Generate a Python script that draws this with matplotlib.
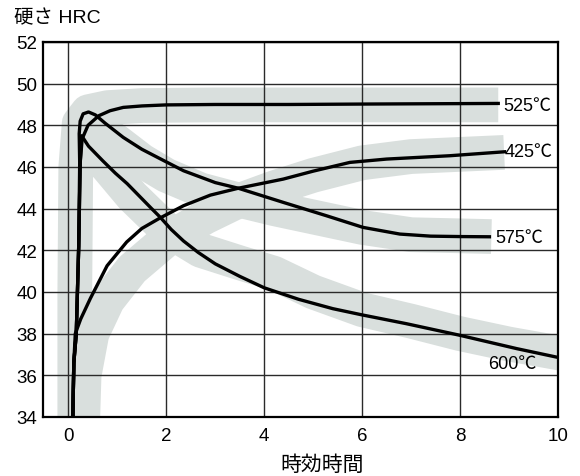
import matplotlib
matplotlib.use("Agg")
import matplotlib.pyplot as plt

# 時効時間 (h) と 硬さ HRC
x_525 = [0.09, 0.11, 0.16, 0.21, 0.24, 0.28, 0.4, 0.62, 0.85, 1.12, 1.5, 2.0, 3.0, 4.5, 6.0, 8.78]
y_525 = [34.0, 36.6, 38.0, 42.2, 46.2, 47.35, 48.0, 48.46, 48.7, 48.86, 48.93, 48.98, 49.0, 49.0, 49.02, 49.05]

x_425 = [0.09, 0.11, 0.14, 0.25, 0.45, 0.79, 1.19, 1.5, 1.87, 2.35, 2.9, 3.47, 4.39, 5.0, 5.75, 6.5, 7.79, 8.91]
y_425 = [34.0, 36.6, 38.0, 38.7, 39.7, 41.26, 42.4, 43.05, 43.55, 44.14, 44.65, 44.98, 45.42, 45.8, 46.22, 46.38, 46.54, 46.73]

x_575 = [0.09, 0.11, 0.16, 0.21, 0.23, 0.22, 0.24, 0.3, 0.41, 0.55, 0.75, 1.12, 1.5, 1.87, 2.35, 3.0, 3.47, 4.39, 5.27, 6.02, 6.77, 7.4, 8.0, 8.6]
y_575 = [34.0, 36.6, 38.0, 42.2, 46.2, 47.6, 48.2, 48.55, 48.64, 48.5, 48.1, 47.42, 46.85, 46.4, 45.82, 45.25, 44.98, 44.3, 43.66, 43.1, 42.78, 42.68, 42.66, 42.65]

x_600 = [0.09, 0.11, 0.16, 0.21, 0.24, 0.27, 0.41, 0.7, 0.96, 1.2, 1.45, 1.7, 1.87, 2.1, 2.35, 2.65, 3.0, 3.5, 4.0, 4.7, 5.4, 6.0, 6.9, 7.98, 9.16, 10.0]
y_600 = [34.0, 36.6, 38.0, 42.2, 46.2, 47.5, 47.0, 46.3, 45.7, 45.2, 44.6, 44.0, 43.6, 43.0, 42.45, 41.9, 41.35, 40.75, 40.2, 39.65, 39.2, 38.9, 38.48, 37.93, 37.28, 36.86]

# ばらつき帯 (灰色) の中心線
band_525_x = [0.13, 0.13, 0.15, 0.22, 0.4, 0.8, 1.5, 3.0, 8.78]
band_525_y = [33.0, 40.0, 46.0, 48.1, 48.65, 48.85, 48.95, 48.98, 48.98]
band_425_x = [0.28, 0.32, 0.48, 0.8, 1.3, 2.0, 2.8, 3.5, 4.2, 5.0, 6.0, 7.0, 8.9]
band_425_y = [33.0, 36.0, 38.0, 39.6, 41.1, 42.5, 43.6, 44.4, 45.0, 45.6, 46.2, 46.5, 46.7]
band_575_x = [0.35, 0.6, 1.0, 1.5, 2.0, 2.7, 3.5, 4.2, 5.0, 6.0, 7.0, 8.64]
band_575_y = [48.3, 47.9, 47.2, 46.3, 45.6, 44.9, 44.4, 44.0, 43.6, 43.1, 42.75, 42.66]
band_600_x = [0.4, 0.8, 1.3, 2.0, 2.7, 3.5, 4.2, 5.0, 6.0, 7.0, 8.0, 9.0, 10.2]
band_600_y = [47.0, 46.0, 44.6, 43.0, 42.0, 41.4, 40.9, 40.0, 39.15, 38.6, 38.0, 37.5, 37.0]

labels = ["525℃", "425℃", "575℃", "600℃"]
label_x = [8.88, 8.92, 8.72, 8.58]
label_y = [48.95, 46.72, 42.62, 36.55]

plt.rcParams['font.family'] = ['Liberation Sans', 'Noto Sans CJK JP']

fig = plt.figure(figsize=(5.8, 4.77), dpi=100)
ax = fig.add_axes([0.0741, 0.1237, 0.8879, 0.7862])

band_color = '#d9dfdd'
for bx, by in [(band_525_x, band_525_y), (band_425_x, band_425_y),
               (band_575_x, band_575_y), (band_600_x, band_600_y)]:
    ax.plot(bx, by, color=band_color, lw=25, solid_capstyle='butt',
            solid_joinstyle='round', zorder=1)

for cx, cy in [(x_525, y_525), (x_425, y_425), (x_575, y_575), (x_600, y_600)]:
    ax.plot(cx, cy, color='black', lw=2.4, solid_joinstyle='round', zorder=3)

for t, lx, ly in zip(labels, label_x, label_y):
    ax.text(lx, ly, t, fontsize=13, ha='left', va='center', zorder=4)

ax.set_xlim(-0.52, 10)
ax.set_ylim(34, 52)
ax.set_xticks(range(0, 11, 2))
ax.set_yticks(range(34, 53, 2))
ax.grid(True, color='#2a2a2a', lw=1.0, zorder=2)
ax.set_axisbelow(False)
ax.tick_params(length=0, labelsize=13.5)
ax.tick_params(axis='x', pad=7)
ax.tick_params(axis='y', pad=4)
for s in ax.spines.values():
    s.set_linewidth(1.6)
    s.set_zorder(5)

fig.text(0.024, 0.962, "硬さ HRC", fontsize=14, va='center', ha='left')
fig.text(0.556, 0.025, "時効時間", fontsize=15, va='center', ha='center')

plt.savefig("out.png", dpi=100)
plt.close(fig)
